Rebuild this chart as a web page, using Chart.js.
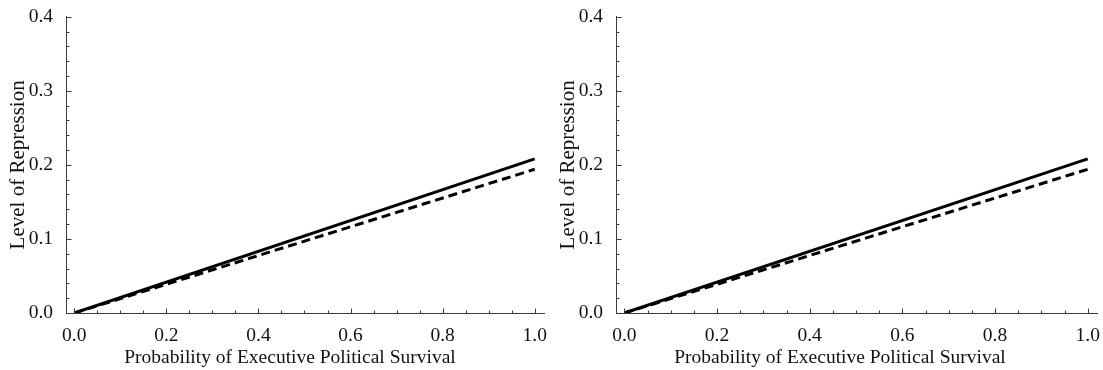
<!DOCTYPE html>
<html>
<head>
<meta charset="utf-8">
<script src="https://cdn.jsdelivr.net/npm/chart.js@4/dist/chart.umd.min.js"></script>
<style>
  html, body { margin: 0; padding: 0; background: #fff; }
  body { width: 1103px; height: 370px; position: relative; overflow: hidden; }
  .panel { position: absolute; top: 0; height: 370px; }
  #panelLeft { left: 0; width: 550px; }
  #panelRight { left: 550px; width: 553px; }
</style>
</head>
<body>
<div class="panel" id="panelLeft"><canvas id="chartLeft"></canvas></div>
<div class="panel" id="panelRight"><canvas id="chartRight"></canvas></div>
<script>
// Probability of executive political survival (x) and the resulting level of repression
const survival = [0, 1];
const repressionSolid = [0, 0.208];
const repressionDashed = [0, 0.194];

// Axis ticks
const xTickValues = [0, 0.2, 0.4, 0.6, 0.8, 1.0];
const yTickValues = [0, 0.1, 0.2, 0.3, 0.4];
const xMinorStep = 0.05;
const yMinorStep = 0.02;

const xTitle = 'Probability of Executive Political Survival';
const yTitle = 'Level of Repression';

const FONT = '"Liberation Serif", "Times New Roman", serif';
const AXIS_COLOR = '#3c3c3c';

// Inward tick marks (major and minor) and axis titles
const axisDecor = {
  id: 'axisDecor',
  afterDraw(chart) {
    const { ctx, chartArea, scales: { x, y } } = chart;
    const xAxisY = chartArea.bottom + 0.5;
    const yAxisX = chartArea.left + 0.5;
    ctx.save();
    ctx.strokeStyle = AXIS_COLOR;
    ctx.lineWidth = 1;
    ctx.beginPath();
    const xMax = 1.0;
    for (let k = 0; k * xMinorStep <= xMax + 1e-9; k++) {
      const v = k * xMinorStep;
      const major = xTickValues.some(t => Math.abs(t - v) < 1e-9);
      const px = Math.round(x.getPixelForValue(v)) + 0.5;
      ctx.moveTo(px, xAxisY);
      ctx.lineTo(px, xAxisY - (major ? 5 : 3));
    }
    const yMax = 0.4;
    for (let k = 0; k * yMinorStep <= yMax + 1e-9; k++) {
      const v = k * yMinorStep;
      const major = yTickValues.some(t => Math.abs(t - v) < 1e-9);
      const py = Math.round(y.getPixelForValue(v)) + 0.5;
      ctx.moveTo(yAxisX, py);
      ctx.lineTo(yAxisX + (major ? 5 : 3), py);
    }
    ctx.stroke();

    ctx.fillStyle = '#111';
    ctx.textAlign = 'center';
    ctx.textBaseline = 'alphabetic';
    ctx.font = '19.5px ' + FONT;
    ctx.fillText(xTitle, chartArea.left + 224, 363);

    ctx.save();
    ctx.font = '21px ' + FONT;
    ctx.translate(24, (chartArea.top + chartArea.bottom) / 2);
    ctx.rotate(-Math.PI / 2);
    ctx.fillText(yTitle, 0, 0);
    ctx.restore();
    ctx.restore();
  }
};

function buildChart(canvasId) {
  const points = (ys) => survival.map((s, i) => ({ x: s, y: ys[i] }));
  return new Chart(document.getElementById(canvasId), {
    type: 'line',
    data: {
      datasets: [
        {
          data: points(repressionDashed),
          borderColor: '#000',
          borderWidth: 3,
          borderDash: [9, 5],
          pointRadius: 0,
          fill: false,
          tension: 0
        },
        {
          data: points(repressionSolid),
          borderColor: '#000',
          borderWidth: 3,
          pointRadius: 0,
          fill: false,
          tension: 0
        }
      ]
    },
    options: {
      responsive: true,
      maintainAspectRatio: false,
      animation: false,
      events: [],
      layout: { padding: { top: 16, right: 5, left: 0, bottom: 0 } },
      plugins: { legend: { display: false }, tooltip: { enabled: false } },
      scales: {
        x: {
          type: 'linear',
          min: -0.018,
          max: 1.022,
          grid: { display: false },
          border: { display: true, color: AXIS_COLOR, width: 1 },
          afterBuildTicks: (s) => { s.ticks = xTickValues.map(v => ({ value: v })); },
          afterFit: (s) => { s.height = 57; },
          ticks: {
            padding: 3,
            color: '#111',
            font: { family: FONT, size: 19.5 },
            maxRotation: 0,
            autoSkip: false,
            callback: (v) => Number(v).toFixed(1)
          }
        },
        y: {
          type: 'linear',
          min: 0,
          max: 0.4,
          grid: { display: false },
          border: { display: true, color: AXIS_COLOR, width: 1 },
          afterBuildTicks: (s) => { s.ticks = yTickValues.map(v => ({ value: v })); },
          afterFit: (s) => { s.width = 66; },
          ticks: {
            padding: 5,
            color: '#111',
            font: { family: FONT, size: 19.5 },
            autoSkip: false,
            callback: (v) => Number(v).toFixed(1)
          }
        }
      }
    },
    plugins: [axisDecor]
  });
}

buildChart('chartLeft');
buildChart('chartRight');
</script>
</body>
</html>
